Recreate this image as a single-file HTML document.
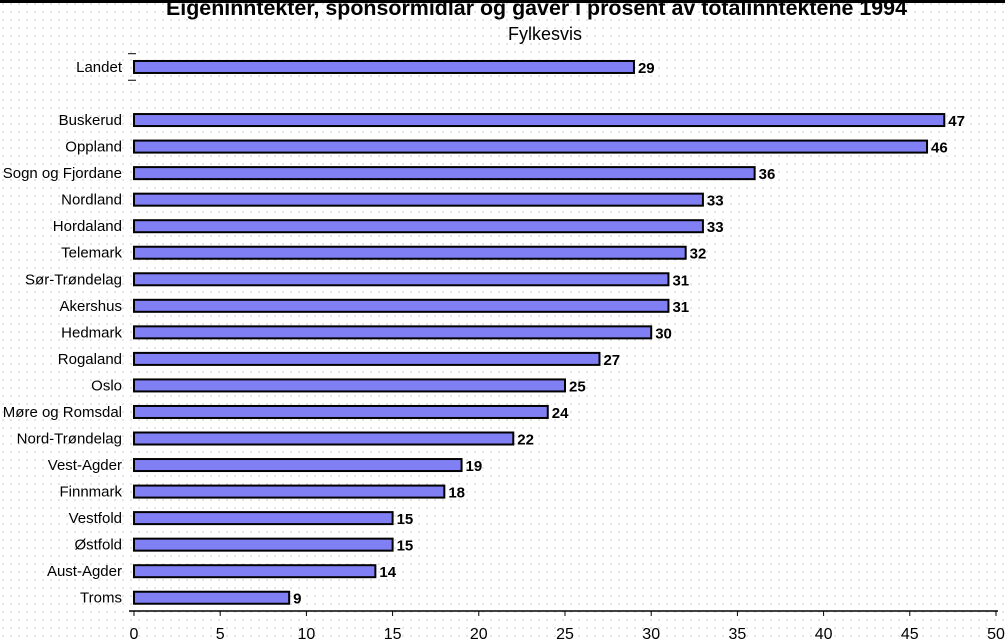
<!DOCTYPE html>
<html><head><meta charset="utf-8"><style>
html,body{margin:0;padding:0;}
body{width:1005px;height:641px;overflow:hidden;background-color:#fff;
background-image:radial-gradient(circle at 1px 1px,#c4c4c4 0.6px,transparent 0.9px);background-size:8px 8px;background-position:2px 3px;
font-family:"Liberation Sans",Arial,sans-serif;}
svg{position:absolute;left:0;top:0;}
</style></head><body>
<svg width="1005" height="641">
<rect x="0" y="0" width="1005" height="3" fill="#000"/>
<text x="166" y="15" font-size="21" font-weight="bold" textLength="741" lengthAdjust="spacingAndGlyphs">Eigeninntekter, sponsormidlar og gaver i prosent av totalinntektene 1994</text>
<text x="545" y="40" text-anchor="middle" font-size="18">Fylkesvis</text>
<g id="plot"></g>
</svg>
<script>
const categories=["Landet","","Buskerud","Oppland","Sogn og Fjordane","Nordland","Hordaland","Telemark","Sør-Trøndelag","Akershus","Hedmark","Rogaland","Oslo","Møre og Romsdal","Nord-Trøndelag","Vest-Agder","Finnmark","Vestfold","Østfold","Aust-Agder","Troms"];
const values=[29,null,47,46,36,33,33,32,31,31,30,27,25,24,22,19,18,15,15,14,9];
const xTicks=[0,5,10,15,20,25,30,35,40,45,50];
const NS="http://www.w3.org/2000/svg";
const g=document.getElementById('plot');
const x0=134,x1=996,xMax=50,yTop=53.7,yBot=611;
const slot=(yBot-yTop)/categories.length;
const X=v=>x0+(x1-x0)*v/xMax;
const Y=i=>yTop+slot*(i+0.5);
function mk(t,a){const e=document.createElementNS(NS,t);for(const k in a)e.setAttribute(k,a[k]);g.appendChild(e);return e;}
categories.forEach((c,i)=>{
  if(values[i]===null)return;
  const y=Y(i);
  const r=mk('rect',{x:x0,y:y-6,width:X(values[i])-x0,height:12,fill:'#8080f4',stroke:'#000','stroke-width':2});
  
  
  const l=mk('text',{x:x0-12,y:y+5,'text-anchor':'end','font-size':15});
  l.textContent=c;
  
  
  const v=mk('text',{x:X(values[i])+4,y:y+6,'font-size':15,'font-weight':'bold'});
  v.textContent=values[i];
  
  
  if(i===0){
  [y-slot/2,y+slot/2].forEach(ty=>{
    const t=mk('line',{x1:x0-6,x2:x0+2,y1:ty,y2:ty,stroke:'#000','stroke-width':1});
    
    
  });}
});
const ax=mk('line',{x1:x0-5,x2:x1+2,y1:yBot,y2:yBot,stroke:'#000','stroke-width':1.5});


xTicks.forEach(t=>{
  const tk=mk('line',{x1:X(t),x2:X(t),y1:yBot,y2:yBot+5,stroke:'#000','stroke-width':1});
  
  
  const tl=mk('text',{x:X(t),y:yBot+28,'text-anchor':'middle','font-size':16});
  tl.textContent=t;
  
  
});
</script>
</body></html>
